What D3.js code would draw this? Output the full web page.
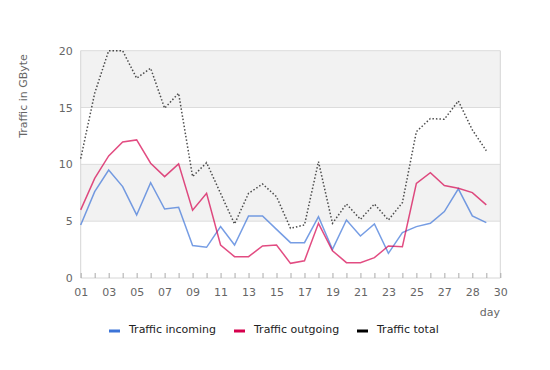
<!DOCTYPE html>
<html>
<head>
<meta charset="utf-8">
<script src="https://cdn.jsdelivr.net/npm/d3@7"></script>
<style>
  body { margin: 0; background: #fff; }
  text { font-family: "DejaVu Sans", sans-serif; }
</style>
</head>
<body>
<div id="chart"></div>
<script>
// day labels (day 28 appears twice in the source chart)
var days = ["01","02","03","04","05","06","07","08","09","10","11","12","13","14","15",
            "16","17","18","19","20","21","22","23","24","25","26","27","28","28b","29","30"];
var dayLabels = {"01":"01","03":"03","05":"05","07":"07","09":"09","11":"11","13":"13","15":"15",
                 "17":"17","19":"19","21":"21","23":"23","25":"25","27":"27","28b":"28","30":"30"};

var incoming = [4.67, 7.6, 9.5, 8.04, 5.55, 8.39, 6.07, 6.22, 2.85, 2.7, 4.52, 2.9, 5.46, 5.46, 4.28,
                3.11, 3.11, 5.4, 2.52, 5.1, 3.7, 4.75, 2.17, 3.99, 4.52, 4.81, 5.84, 7.85, 5.46, 4.87];
var outgoing = [5.99, 8.77, 10.74, 11.97, 12.15, 10.1, 8.92, 10.04, 5.96, 7.45, 2.9, 1.88, 1.88, 2.82, 2.9,
                1.29, 1.52, 4.81, 2.4, 1.35, 1.35, 1.79, 2.82, 2.76, 8.33, 9.27, 8.13, 7.9, 7.51, 6.43];
var total = [10.5, 16.26, 20, 20, 17.58, 18.46, 14.94, 16.26, 8.92, 10.15, 7.45, 4.75, 7.45, 8.27, 7.16,
             4.37, 4.67, 10.24, 4.81, 6.51, 5.16, 6.51, 5.1, 6.63, 12.88, 14.03, 13.97, 15.58, 13.03, 11.2];

var yTicks = [0, 5, 10, 15, 20];
var seriesNames = ["Traffic incoming", "Traffic outgoing", "Traffic total"];

var w = 550, h = 370;
var plotLeft = 80.7, plotRight = 500.3, plotTop = 50.7, plotBottom = 278;

var svg = d3.select("#chart").append("svg").attr("width", w).attr("height", h);

var x = d3.scalePoint().domain(days).range([plotLeft, plotRight]);
var y = d3.scaleLinear().domain([0, 20]).range([plotBottom, plotTop]);

// alternating bands
svg.selectAll(".band")
  .data([[5, 10], [15, 20]])
  .enter().append("rect")
  .attr("x", plotLeft)
  .attr("y", function(d) { return y(d[1]); })
  .attr("width", plotRight - plotLeft)
  .attr("height", function(d) { return y(d[0]) - y(d[1]); })
  .attr("fill", "#f2f2f2");

// grid lines
svg.selectAll(".grid")
  .data(yTicks.slice(1))
  .enter().append("line")
  .attr("x1", plotLeft).attr("x2", plotRight)
  .attr("y1", function(d) { return y(d); })
  .attr("y2", function(d) { return y(d); })
  .attr("stroke", "#dcdcdc")
  .attr("stroke-width", 1);

// frame
svg.append("line").attr("x1", plotRight).attr("x2", plotRight).attr("y1", plotTop).attr("y2", plotBottom)
  .attr("stroke", "#d6d6d6");
svg.append("line").attr("x1", plotLeft).attr("x2", plotLeft).attr("y1", plotTop).attr("y2", plotBottom)
  .attr("stroke", "#d6d6d6");

// x axis
var xAxis = d3.axisBottom(x)
  .tickSize(-5)
  .tickPadding(10)
  .tickFormat(function(d) { return dayLabels[d] || ""; });
var gx = svg.append("g")
  .attr("transform", "translate(0," + plotBottom + ")")
  .call(xAxis);
gx.select(".domain").attr("stroke", "#d6d6d6").attr("d", "M" + plotLeft + ",0H" + plotRight);
gx.selectAll(".tick line").attr("stroke", "#aaa");
gx.selectAll(".tick text").attr("fill", "#666").attr("font-size", "11px");

// y axis
var yAxis = d3.axisLeft(y).tickValues(yTicks).tickSize(0).tickPadding(8);
var gy = svg.append("g")
  .attr("transform", "translate(" + plotLeft + ",0)")
  .call(yAxis);
gy.select(".domain").remove();
gy.selectAll(".tick text").attr("fill", "#666").attr("font-size", "11px");

// axis titles
svg.append("text")
  .attr("transform", "translate(27," + 96 + ") rotate(-90)")
  .attr("text-anchor", "middle")
  .attr("fill", "#666")
  .attr("font-size", "11px")
  .text("Traffic in GByte");

svg.append("text")
  .attr("x", 500).attr("y", 316)
  .attr("text-anchor", "end")
  .attr("fill", "#666")
  .attr("font-size", "11px")
  .text("day");

// lines
var line = d3.line()
  .x(function(d, i) { return x(days[i]); })
  .y(function(d) { return y(d); });

svg.append("path").datum(incoming)
  .attr("d", line).attr("fill", "none")
  .attr("stroke", "#3c74d8").attr("stroke-opacity", 0.7).attr("stroke-width", 1.5);

svg.append("path").datum(outgoing)
  .attr("d", line).attr("fill", "none")
  .attr("stroke", "#d6004d").attr("stroke-opacity", 0.7).attr("stroke-width", 1.5);

svg.append("path").datum(total)
  .attr("d", line).attr("fill", "none")
  .attr("stroke", "#222").attr("stroke-opacity", 0.8).attr("stroke-width", 1.5)
  .attr("stroke-dasharray", "1.5,2");

// legend
var legendColors = ["#3c74d8", "#d6004d", "#000"];
var legendX = [109, 234, 357];
var lg = svg.selectAll(".legend")
  .data(seriesNames)
  .enter().append("g")
  .attr("transform", function(d, i) { return "translate(" + legendX[i] + ",331)"; });
lg.append("rect")
  .attr("x", 0).attr("y", -1.5)
  .attr("width", 11).attr("height", 3)
  .attr("fill", function(d, i) { return legendColors[i]; });
lg.append("text")
  .attr("x", 20).attr("y", 2)
  .attr("fill", "#222")
  .attr("font-size", "11px")
  .text(function(d) { return d; });
</script>
</body>
</html>
